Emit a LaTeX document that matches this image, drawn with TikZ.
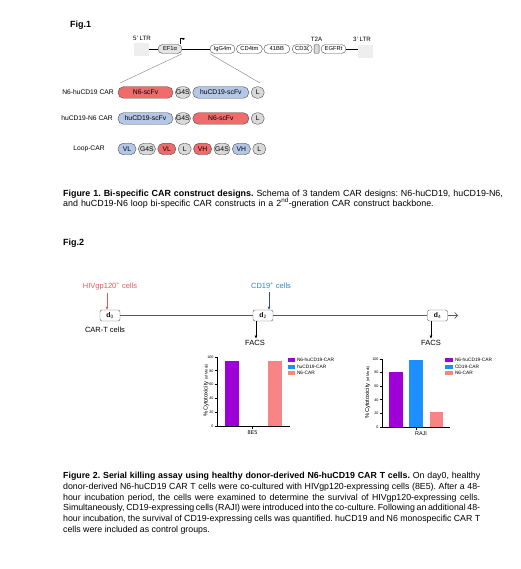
\documentclass[tikz,border=0pt]{standalone}
\usepackage{fontspec}
\setmainfont{Liberation Sans}
\usepackage{tikz}
\usetikzlibrary{positioning,arrows.meta}
\definecolor{segred}{HTML}{F06B6B}
\definecolor{segblue}{HTML}{B4C7E7}
\definecolor{seggray}{HTML}{D9D9D9}
\definecolor{ltrgray}{HTML}{EEEEEE}
\definecolor{hivred}{HTML}{E8585A}
\definecolor{cdblue}{HTML}{2E86C1}
\definecolor{cdarrow}{HTML}{2F4F8F}
\definecolor{barpurple}{HTML}{A000D8}
\definecolor{barblue}{HTML}{1E8FFF}
\definecolor{barpink}{HTML}{F88585}
\newcommand{\fsz}[1]{\fontsize{#1}{1.2\dimexpr#1pt\relax}\selectfont}
\frenchspacing
\tikzset{
  flowarrow/.style={-{Latex[length=3pt,width=3pt]}, semithick},
  backbone/.style={draw=gray!60!black, rounded corners=4.5pt, minimum height=9pt, inner sep=0pt, font=\fsz{5.8}, fill=white},
  ltrbox/.style={fill=ltrgray, minimum width=15pt, minimum height=13pt, inner sep=0pt},
  seg/.style={draw=gray!60!black, rounded corners=5.5pt, minimum height=11.5pt, inner sep=0pt, font=\fsz{6.8}},
  redseg/.style={seg, fill=segred},
  blueseg/.style={seg, fill=segblue},
  grayseg/.style={seg, fill=seggray},
  rowlabel/.style={font=\fsz{6.7}, inner sep=0pt},
  daybox/.style={draw=gray!70!black, rounded corners=2pt, minimum width=20pt, minimum height=11pt, inner sep=0pt, font=\fsz{6.8}, fill=white},
  tlabel/.style={font=\fsz{7.5}, inner sep=1pt},
  timeline/.style={draw=gray!70!black, semithick},
  axisline/.style={black, line width=0.7pt},
  ticklab/.style={font=\fsz{3.7}, inner sep=0.8pt},
  leglab/.style={font=\fsz{4.8}, inner sep=0.8pt, anchor=west},
  caption/.style={inner sep=0pt, anchor=north west}
}

\begin{document}
\begin{tikzpicture}[x=1pt, y=-1pt, >=Latex]
  \useasboundingbox (0,0) rectangle (520,569);
  % Fig.1 : vector backbone
  \node[font=\fsz{9}\bfseries, anchor=west, inner sep=0pt] (fig1) at (70,25) {Fig.1};
  \node[ltrbox] (ltr5) at (141.5,49.5) {};
  \node[font=\fsz{6.2}, inner sep=0pt] (ltr5lab) at (142,38.5) {5' LTR};
  \node[backbone, fill=seggray!70, minimum width=24pt] (ef) at (170,49) {EF1α};
  \node[backbone, minimum width=25pt] (ig) at (222.5,49) {IgG4m};
  \node[backbone, minimum width=26pt, right=1pt of ig] (cd4) {CD4tm};
  \node[backbone, minimum width=26pt, right=1pt of cd4] (bb) {41BB};
  \node[backbone, minimum width=20pt, right=2pt of bb] (cd3) {CD3ζ};
  \node[backbone, fill=seggray, rounded corners=1pt, minimum width=5pt, right=1.5pt of cd3] (t2a) {};
  \node[font=\fsz{6.2}, inner sep=0pt] (t2alab) at (t2a |- 0,39) {T2A};
  \node[backbone, minimum width=25pt, right=1.5pt of t2a] (egfr) {EGFRt};
  \node[ltrbox] (ltr3) at (365.5,51.5) {};
  \node[font=\fsz{6.2}, inner sep=0pt] (ltr3lab) at (362,39) {3' LTR};
  \draw[semithick] (ltr5.east |- ef) -- (ef.west);
  \draw[semithick] (ef.east) -- (ig.west);
  \draw[semithick] (egfr.east) -- (egfr.east -| ltr3.west);
  \draw[semithick, -{Latex[length=2.5pt,width=2.5pt]}] ([xshift=-1.5pt]ef.north east) |- ++(4.5pt,5.5pt);
  \coordinate (zl) at (120,83);
  \coordinate (zr) at (260,83);
  \draw[gray] (ef.south east) -- (zl);
  \draw[gray] (ig.south west) -- (zr);

  % three CAR designs
  \node[rowlabel] (lab1) at (88,92.5) {N6-huCD19 CAR};
  \node[redseg, minimum width=55pt] (r1a) at (145.5,92.5) {N6-scFv};
  \node[grayseg, minimum width=15pt, right=2pt of r1a] (r1b) {G4S};
  \node[blueseg, minimum width=56pt, right=2pt of r1b] (r1c) {huCD19-scFv};
  \node[grayseg, minimum width=13pt, right=2pt of r1c] (r1d) {L};

  \node[rowlabel] (lab2) at (87,118.5) {huCD19-N6 CAR};
  \node[blueseg, minimum width=55pt] (r2a) at (145.5,118.5) {huCD19-scFv};
  \node[grayseg, minimum width=15pt, right=2pt of r2a] (r2b) {G4S};
  \node[redseg, minimum width=56pt, right=2pt of r2b] (r2c) {N6-scFv};
  \node[grayseg, minimum width=13pt, right=2pt of r2c] (r2d) {L};

  \node[rowlabel] (lab3) at (89,149) {Loop-CAR};
  \node[blueseg, minimum width=18pt] (r3a) at (127,149) {VL};
  \node[grayseg, minimum width=17pt, right=2pt of r3a] (r3b) {G4S};
  \node[redseg, minimum width=18pt, right=2pt of r3b] (r3c) {VL};
  \node[grayseg, minimum width=13pt, right=2pt of r3c] (r3d) {L};
  \node[redseg, minimum width=18pt, right=2pt of r3d] (r3e) {VH};
  \node[grayseg, minimum width=16pt, right=2pt of r3e] (r3f) {G4S};
  \node[blueseg, minimum width=18pt, right=2pt of r3f] (r3g) {VH};
  \node[grayseg, minimum width=13pt, right=2pt of r3g] (r3h) {L};

  \node[caption, font=\fontsize{8.9}{10.4}\selectfont, text width=460pt, align=left] (cap1) at (63,189.5) {\textbf{Figure 1. Bi-specific CAR construct designs.} Schema of 3 tandem CAR designs: N6-huCD19, huCD19-N6,\\ and huCD19-N6 loop bi-specific CAR constructs in a 2\textsuperscript{nd}-gneration CAR construct backbone.};

  % Fig.2 : timeline
  \node[font=\fsz{9}\bfseries, anchor=west, inner sep=0pt] (fig2) at (63,243) {Fig.2};
  \node[daybox] (d0) at (110,315.5) {\textbf{d}\textsubscript{0}};
  \node[daybox] (d2) at (263,315.5) {\textbf{d}\textsubscript{2}};
  \node[daybox] (d4) at (437.5,315.5) {\textbf{d}\textsubscript{4}};
  \coordinate (tend) at (458,315.5);
  \draw[timeline] (d0) -- (d2);
  \draw[timeline] (d2) -- (d4);
  \draw[timeline, -{Straight Barb[length=3pt,width=6pt]}] (d4) -- (tend);
  \node[tlabel, text=hivred] (hiv) at (110,286) {HIVgp120\textsuperscript{+} cells};
  \node[tlabel, text=cdblue] (cd19) at (271,286) {CD19\textsuperscript{+} cells};
  \node[tlabel] (cart) at (105,330) {CAR-T cells};
  \node[tlabel] (facs1) at (255,342.5) {FACS};
  \node[tlabel] (facs2) at (431,342.5) {FACS};
  \draw[flowarrow, hivred, shorten <=1.5pt] ([xshift=-3pt]hiv.south) -- ([xshift=-3pt]hiv.south |- d0.north);
  \draw[flowarrow, cdarrow, shorten <=1.5pt] ([xshift=-2pt]cd19.south) -- ([xshift=-2pt]cd19.south |- d2.north);
  \draw[flowarrow, black] ([xshift=-7pt]d2.south) -- ([xshift=-7pt]d2.south |- facs1.north);
  \draw[flowarrow, black] ([xshift=-6.5pt]d4.south) -- ([xshift=-6.5pt]d4.south |- facs2.north);

  % chart 8E5
  \draw[axisline] (217,357) -- (217,426) -- (290,426);
  \foreach \v in {0,20,...,100} {
    \draw[axisline] (214.5,{426-0.69*\v}) -- (217,{426-0.69*\v});
    \node[ticklab, anchor=east] (ta\v) at (214.5,{426-0.69*\v}) {\v};
  }
  \draw[axisline] (252.5,426) -- (252.5,428.5);
  \node[font=\fsz{5.5}, inner sep=0pt] (xa) at (252.5,432.5) {8E5};
  \node[font=\fsz{5.8}, inner sep=0pt, rotate=90] (ya) at (206,390) {\%Cytotoxicity {\fsz{3.8}(of Mock)}};
  \fill[barpurple] (225,425.6) rectangle (239,361);
  \fill[barpink] (268,425.6) rectangle (282,361);
  \fill[barpurple] (288,358) rectangle (295,362);
  \fill[barblue] (288,364.5) rectangle (295,368.5);
  \fill[barpink] (288,371) rectangle (295,375);
  \node[leglab] (la1) at (296,360) {N6-huCD19-CAR};
  \node[leglab] (la2) at (296,366.5) {huCD19-CAR};
  \node[leglab] (la3) at (296,373) {N6-CAR};

  % chart RAJI
  \draw[axisline] (382,359) -- (382,427) -- (450,427);
  \foreach \v in {0,20,...,100} {
    \draw[axisline] (379.5,{427-0.68*\v}) -- (382,{427-0.68*\v});
    \node[ticklab, anchor=east] (tb\v) at (379.5,{427-0.68*\v}) {\v};
  }
  \draw[axisline] (416,427) -- (416,429.5);
  \node[font=\fsz{5.5}, inner sep=0pt] (xb) at (421,433.5) {RAJI};
  \node[font=\fsz{5.8}, inner sep=0pt, rotate=90] (yb) at (367.5,392) {\%Cytotoxicity {\fsz{3.8}(of Mock)}};
  \fill[barpurple] (389,426.6) rectangle (403,371.5);
  \fill[barblue] (409,426.6) rectangle (423,360);
  \fill[barpink] (430,426.6) rectangle (443,412);
  \fill[barpurple] (445,358) rectangle (453,362);
  \fill[barblue] (445,364.5) rectangle (453,368.5);
  \fill[barpink] (445,371) rectangle (453,375);
  \node[leglab] (lb1) at (454,360) {N6-huCD19-CAR};
  \node[leglab] (lb2) at (454,366.5) {CD19-CAR};
  \node[leglab] (lb3) at (454,373) {N6-CAR};

  \node[caption, font=\fontsize{8.8}{10.8}\selectfont, text width=417pt, align=justify] (cap2) at (63,472) {\hyphenpenalty=10000 \textbf{Figure 2. Serial killing assay using healthy donor-derived N6-huCD19 CAR T cells.} On day0, healthy\linebreak donor-derived N6-huCD19 CAR T cells were co-cultured with HIVgp120-expressing cells (8E5). After a 48-\linebreak hour incubation period, the cells were examined to determine the survival of HIVgp120-expressing cells.\linebreak Simultaneously, CD19-expressing cells (RAJI) were introduced into the co-culture. Following an additional 48-\linebreak hour incubation, the survival of CD19-expressing cells was quantified. huCD19 and N6 monospecific CAR T\linebreak cells were included as control groups.};
\end{tikzpicture}
\end{document}
